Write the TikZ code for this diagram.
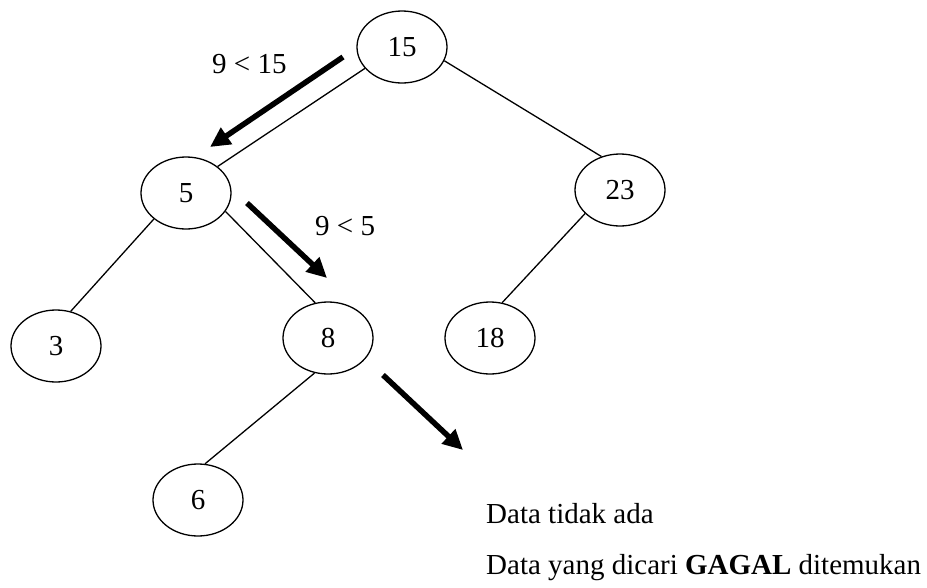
\documentclass[tikz,border=0pt]{standalone}
\usepackage{fontspec}
\setmainfont{Liberation Serif}
\usetikzlibrary{shapes.geometric,arrows.meta}
\tikzset{
  tnode/.style={draw, ellipse, line width=1.3pt, minimum width=90pt, minimum height=72pt, inner sep=0pt, font=\fontsize{29}{34}\selectfont},
  tedge/.style={line width=1.3pt},
  bigarrow/.style={line width=5.5pt, -{Triangle[length=20pt,width=19pt]}},
  lbl/.style={inner sep=0pt, anchor=base west, font=\fontsize{29}{34}\selectfont}
}
\begin{document}
\begin{tikzpicture}[x=1pt,y=-1pt]
\useasboundingbox (0,0) rectangle (927,587);
\node[tnode] (n15) at (402,47) {15};
\node[tnode] (n5) at (186,193) {5};
\node[tnode] (n23) at (620,190) {23};
\node[tnode] (n3) at (56,346) {3};
\node[tnode] (n8) at (328,338) {8};
\node[tnode] (n18) at (490,338) {18};
\node[tnode] (n6) at (198,500) {6};
\draw[tedge] (n15.210) -- (n5.40);
\draw[tedge] (n15.342) -- (n23.119);
\draw[tedge] (n5.219) -- (n3.67);
\draw[tedge] (n5.335) -- (n8.110);
\draw[tedge] (n23.214) -- (n18.71);
\draw[tedge] (n8.249) -- (n6.79);
\coordinate (a1s) at (343,57);
\coordinate (a1e) at (210,147);
\coordinate (a2s) at (247,203);
\coordinate (a2e) at (327,278);
\coordinate (a3s) at (383,375);
\coordinate (a3e) at (463,450);
\draw[bigarrow] (a1s) -- (a1e);
\draw[bigarrow] (a2s) -- (a2e);
\draw[bigarrow] (a3s) -- (a3e);
\node[lbl] (l1) at (212,73) {9 < 15};
\node[lbl] (l2) at (315,235) {9 < 5};
\node[lbl] (t1) at (486,523) {Data tidak ada};
\node[lbl] (t2) at (486,574) {Data yang dicari \textbf{GAGAL} ditemukan};
\end{tikzpicture}
\end{document}
